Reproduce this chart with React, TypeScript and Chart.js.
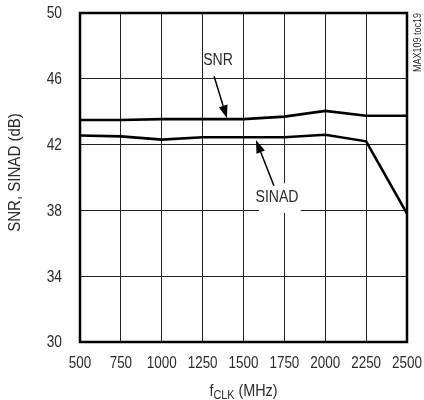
import React, { useEffect, useRef } from "react";
import { Chart, registerables } from "chart.js";

Chart.register(...registerables);

const freqMHz = [500, 750, 1000, 1250, 1500, 1750, 2000, 2250, 2500];
const snrDb = [43.5, 43.5, 43.55, 43.55, 43.55, 43.7, 44.05, 43.75, 43.75];
const sinadDb = [42.55, 42.5, 42.3, 42.45, 42.45, 42.45, 42.6, 42.2, 37.8];
const yTicks = [30, 34, 38, 42, 46, 50];
const xTicks = [500, 750, 1000, 1250, 1500, 1750, 2000, 2250, 2500];

const FONT = "'Liberation Sans', Arial, sans-serif";
const TEXT = "#2a2a2a";

type Anno = { text: string; x: number; y: number; box: [number, number, number, number]; from: [number, number]; to: [number, number] };
const annotations: Anno[] = [
  { text: "SNR", x: 1344, y: 47.1, box: [1280, 47.65, 1405, 46.1], from: [1320, 46.15], to: [1399, 43.6] },
  { text: "SINAD", x: 1705, y: 38.75, box: [1595, 39.65, 1850, 37.85], from: [1686, 39.5], to: [1576, 42.28] },
];

function drawText(ctx: CanvasRenderingContext2D, text: string, x: number, y: number, size: number, sx: number, align: CanvasTextAlign, baseline: CanvasTextBaseline, rot = 0) {
  ctx.save();
  ctx.translate(x, y);
  if (rot) ctx.rotate(rot);
  ctx.scale(sx, 1);
  ctx.font = `${size}px ${FONT}`;
  ctx.textAlign = align;
  ctx.textBaseline = baseline;
  ctx.fillStyle = TEXT;
  ctx.fillText(text, 0, 0);
  ctx.restore();
}

const overlay = {
  id: "overlay",
  beforeDatasetsDraw(chart: any) {
    const { ctx } = chart;
    const xs = chart.scales.x, ys = chart.scales.y;
    ctx.save();
    ctx.fillStyle = "#ffffff";
    for (const a of annotations) {
      const x1 = xs.getPixelForValue(a.box[0]), y1 = ys.getPixelForValue(a.box[1]);
      const x2 = xs.getPixelForValue(a.box[2]), y2 = ys.getPixelForValue(a.box[3]);
      ctx.fillRect(x1, y1, x2 - x1, y2 - y1);
    }
    ctx.restore();
  },
  afterDatasetsDraw(chart: any) {
    const { ctx, chartArea: ca } = chart;
    const xs = chart.scales.x, ys = chart.scales.y;
    ctx.save();
    ctx.strokeStyle = "#000";
    ctx.lineWidth = 2.5;
    ctx.strokeRect(ca.left, ca.top, ca.right - ca.left, ca.bottom - ca.top);
    for (const a of annotations) {
      drawText(ctx, a.text, xs.getPixelForValue(a.x), ys.getPixelForValue(a.y), 16, 0.88, "center", "middle");
      const fx = xs.getPixelForValue(a.from[0]), fy = ys.getPixelForValue(a.from[1]);
      const tx = xs.getPixelForValue(a.to[0]), ty = ys.getPixelForValue(a.to[1]);
      const ang = Math.atan2(ty - fy, tx - fx);
      const hl = 13, hw = 4.5;
      const bx = tx - hl * Math.cos(ang), by = ty - hl * Math.sin(ang);
      ctx.strokeStyle = "#000";
      ctx.lineWidth = 1.5;
      ctx.beginPath();
      ctx.moveTo(fx, fy);
      ctx.lineTo(bx, by);
      ctx.stroke();
      ctx.fillStyle = "#000";
      ctx.beginPath();
      ctx.moveTo(tx, ty);
      ctx.lineTo(bx + hw * Math.sin(ang), by - hw * Math.cos(ang));
      ctx.lineTo(bx - hw * Math.sin(ang), by + hw * Math.cos(ang));
      ctx.closePath();
      ctx.fill();
    }
    ctx.restore();
  },
  afterDraw(chart: any) {
    const { ctx, chartArea: ca } = chart;
    const xs = chart.scales.x, ys = chart.scales.y;
    // tick labels
    for (const v of yTicks) drawText(ctx, String(v), 62, ys.getPixelForValue(v) + 1, 16, 0.86, "right", "middle");
    for (const v of xTicks) drawText(ctx, String(v), xs.getPixelForValue(v), 364, 16, 0.84, "center", "middle");
    // y title
    drawText(ctx, "SNR, SINAD (dB)", 16, (ca.top + ca.bottom) / 2 - 5, 16, 0.94, "center", "middle", -Math.PI / 2);
    // x title with subscript
    ctx.save();
    const sxT = 0.9;
    ctx.font = `16px ${FONT}`;
    const w1 = ctx.measureText("f").width * sxT;
    const w3 = ctx.measureText(" (MHz)").width * sxT;
    ctx.font = `12px ${FONT}`;
    const w2 = ctx.measureText("CLK").width * sxT;
    ctx.restore();
    let x = (ca.left + ca.right) / 2 - (w1 + w2 + w3) / 2;
    const base = 396;
    drawText(ctx, "f", x, base, 16, sxT, "left", "alphabetic");
    x += w1;
    drawText(ctx, "CLK", x, base + 3, 12, sxT, "left", "alphabetic");
    x += w2;
    drawText(ctx, " (MHz)", x, base, 16, sxT, "left", "alphabetic");
    // side code
    drawText(ctx, "MAX109 toc19", 418, ca.top, 10, 0.9, "right", "middle", -Math.PI / 2);
  },
};

export default function App() {
  const ref = useRef<HTMLCanvasElement | null>(null);
  useEffect(() => {
    if (!ref.current) return;
    const zeroPad = (s: any) => { s.paddingLeft = 0; s.paddingRight = 0; s.paddingTop = 0; s.paddingBottom = 0; };
    const chart = new Chart(ref.current, {
      type: "line",
      data: {
        datasets: [
          { label: "SNR", data: freqMHz.map((f, i) => ({ x: f, y: snrDb[i] })), borderColor: "#000", borderWidth: 2.6, pointRadius: 0, tension: 0 },
          { label: "SINAD", data: freqMHz.map((f, i) => ({ x: f, y: sinadDb[i] })), borderColor: "#000", borderWidth: 2.6, pointRadius: 0, tension: 0 },
        ],
      },
      options: {
        animation: false,
        responsive: false,
        devicePixelRatio: 1,
        layout: { padding: { left: 0, right: 17, top: 13, bottom: 0 } },
        plugins: { legend: { display: false }, tooltip: { enabled: false } },
        scales: {
          x: {
            type: "linear",
            min: 500,
            max: 2500,
            afterBuildTicks: (s: any) => { s.ticks = xTicks.map((v) => ({ value: v })); },
            afterFit: (s: any) => { s.height = 58; zeroPad(s); },
            border: { display: false },
            grid: { color: "#222", lineWidth: 1, drawTicks: false },
            ticks: { display: false },
          },
          y: {
            type: "linear",
            min: 30,
            max: 50,
            afterBuildTicks: (s: any) => { s.ticks = yTicks.map((v) => ({ value: v })); },
            afterFit: (s: any) => { s.width = 80; zeroPad(s); },
            border: { display: false },
            grid: { color: "#222", lineWidth: 1, drawTicks: false },
            ticks: { display: false },
          },
        },
      },
      plugins: [overlay],
    } as any);
    return () => chart.destroy();
  }, []);
  return (
    <canvas
      ref={ref}
      width={424}
      height={400}
      style={{ position: "fixed", left: 0, top: 0, width: 424, height: 400, background: "#fff" }}
    />
  );
}
